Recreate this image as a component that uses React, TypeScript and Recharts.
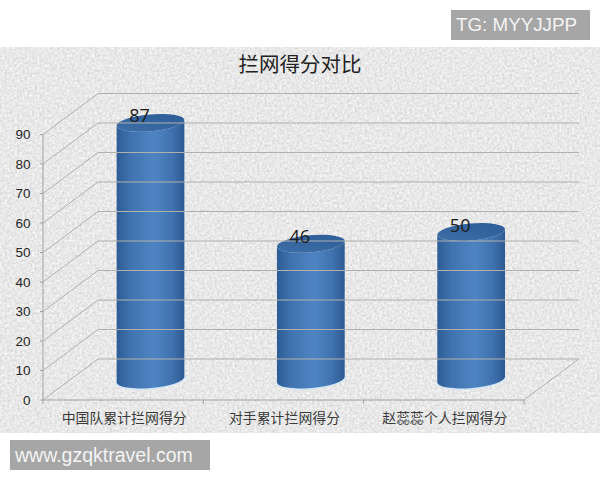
import React from "react";
import { BarChart, Bar, XAxis, YAxis, LabelList } from "recharts";

const categories = ["中国队累计拦网得分", "对手累计拦网得分", "赵蕊蕊个人拦网得分"];
const values = [87, 46, 50];
const yTicks = [0, 10, 20, 30, 40, 50, 60, 70, 80, 90];
const titleText = "拦网得分对比";
const topBadge = "TG: MYYJJPP";
const bottomBadge = "www.gzqktravel.com";

const chartData = categories.map((name, i) => ({ name, value: values[i] }));

const W = 600;
const H = 480;
const PLOT_LEFT = 43;
const PLOT_RIGHT = 524;
const PLOT_TOP = 134.5;
const PLOT_BOTTOM = 400;
const DEPTH_X = 55;
const DEPTH_Y = 41;
const RY = 8.5;
const TILT = -5;
const GRID = "#b0b0ae";
const AXIS = "#a2a2a0";
const CJK = '"Noto Sans CJK SC", sans-serif';
const LATIN = '"Liberation Sans", Arial, sans-serif';
const BAND = (PLOT_RIGHT - PLOT_LEFT) / categories.length;

const Cylinder = (props: any) => {
  const { x, y, width, height } = props;
  const cx = x + width / 2 + DEPTH_X / 2;
  const rx = width / 2;
  const top = y - DEPTH_Y / 2;
  const bottom = y + height - DEPTH_Y / 2;
  const tiltDx = rx * Math.cos((TILT * Math.PI) / 180);
  const tiltDy = rx * Math.sin((TILT * Math.PI) / 180);
  const body = `M${cx - tiltDx} ${top - tiltDy} L${cx - tiltDx} ${bottom - tiltDy}
    A${rx} ${RY} ${TILT} 0 0 ${cx + tiltDx} ${bottom + tiltDy}
    L${cx + tiltDx} ${top + tiltDy}
    A${rx} ${RY} ${TILT} 0 1 ${cx - tiltDx} ${top - tiltDy} Z`;
  return (
    <g>
      <ellipse cx={cx} cy={bottom + 0.8} rx={rx + 1.5} ry={RY + 0.8} transform={`rotate(${TILT} ${cx} ${bottom})`} fill="#d5e6f5" />
      <path d={body} fill="url(#cylBody)" />
      <ellipse cx={cx} cy={top} rx={rx} ry={RY} transform={`rotate(${TILT} ${cx} ${top})`} fill="url(#cylTop)" />
    </g>
  );
};

const YTick = (props: any) => {
  const { x, y, payload } = props;
  const isFloor = payload.value === 0;
  return (
    <g>
      <line x1={PLOT_LEFT} y1={y} x2={PLOT_LEFT + DEPTH_X} y2={y - DEPTH_Y} stroke={GRID} />
      <line x1={PLOT_LEFT + DEPTH_X} y1={y - DEPTH_Y} x2={PLOT_RIGHT + DEPTH_X} y2={y - DEPTH_Y} stroke={GRID} />
      {isFloor && <line x1={PLOT_RIGHT} y1={y} x2={PLOT_RIGHT + DEPTH_X} y2={y - DEPTH_Y} stroke={GRID} />}
      <text x={x + 0.5} y={y} dy={4.5} textAnchor="end" fontFamily={LATIN} fontSize={13.5} fill="#262626">
        {payload.value}
      </text>
    </g>
  );
};

const XTick = (props: any) => {
  const { x, y, payload, index } = props;
  return (
    <g>
      <line x1={x - BAND / 2} y1={PLOT_BOTTOM} x2={x - BAND / 2} y2={PLOT_BOTTOM + 4} stroke={AXIS} />
      {index === categories.length - 1 && (
        <line x1={x + BAND / 2} y1={PLOT_BOTTOM} x2={x + BAND / 2} y2={PLOT_BOTTOM + 4} stroke={AXIS} />
      )}
      <text x={x + 1} y={y} dy={9} textAnchor="middle" fontFamily={CJK} fontSize={13.9} fill="#3a3a3a">
        {payload.value}
      </text>
    </g>
  );
};

const ValueLabel = (props: any) => {
  const { x, y, width, value } = props;
  return (
    <text
      x={x + width / 2 + DEPTH_X / 2 - 11}
      y={y - DEPTH_Y / 2 - 0.5}
      textAnchor="middle"
      fontFamily={'"Open Sans", sans-serif'}
      fontSize={18}
      fill="#1c1c1c"
    >
      {value}
    </text>
  );
};

const badge = (left: number, top: number, width: number, size: number): React.CSSProperties => ({
  position: "absolute",
  left,
  top,
  width,
  height: 30,
  lineHeight: "30px",
  background: "#a6a6a6",
  color: "#f4f4f4",
  fontFamily: LATIN,
  fontSize: size,
  paddingLeft: 5,
  boxSizing: "border-box",
  whiteSpace: "nowrap",
});

export default function App() {
  return (
    <div style={{ position: "absolute", left: 0, top: 0, width: W, height: H, background: "#fff", overflow: "hidden" }}>
      <BarChart
        width={W}
        height={H}
        data={chartData}
        margin={{ top: PLOT_TOP, right: W - PLOT_RIGHT, bottom: 0, left: 0 }}
        barSize={68}
      >
        <defs>
          <filter id="paper" x="0" y="0" width="100%" height="100%" colorInterpolationFilters="sRGB">
            <feTurbulence type="fractalNoise" baseFrequency="0.4" numOctaves={3} seed={4} />
            <feColorMatrix
              type="matrix"
              values="0.2 0 0 0 0.81  0.2 0 0 0 0.81  0.2 0 0 0 0.81  0 0 0 0 1"
            />
          </filter>
          <linearGradient id="cylBody" x1="0" y1="0" x2="1" y2="0">
            <stop offset="0" stopColor="#2d5c95" />
            <stop offset="0.2" stopColor="#3f72ae" />
            <stop offset="0.55" stopColor="#4f84c3" />
            <stop offset="0.82" stopColor="#3f72ae" />
            <stop offset="1" stopColor="#2d5a92" />
          </linearGradient>
          <linearGradient id="cylTop" x1="0" y1="1" x2="1" y2="0">
            <stop offset="0" stopColor="#3f70aa" />
            <stop offset="0.6" stopColor="#33639d" />
            <stop offset="1" stopColor="#2d5c95" />
          </linearGradient>
        </defs>
        <rect x={0} y={47} width={W} height={386} filter="url(#paper)" />
        <text x={300} y={72} textAnchor="middle" fontFamily={CJK} fontSize={20.5} fill="#222">
          {titleText}
        </text>
        <YAxis
          domain={[0, 90]}
          ticks={yTicks}
          interval={0}
          width={PLOT_LEFT}
          tick={<YTick />}
          tickSize={3}
          tickMargin={10}
          axisLine={{ stroke: AXIS }}
          tickLine={{ stroke: AXIS }}
        />
        <XAxis
          dataKey="name"
          height={H - PLOT_BOTTOM}
          interval={0}
          tick={<XTick />}
          tickLine={false}
          tickMargin={8}
          axisLine={{ stroke: AXIS }}
        />
        <Bar dataKey="value" shape={<Cylinder />} isAnimationActive={false}>
          <LabelList dataKey="value" content={<ValueLabel />} />
        </Bar>
      </BarChart>
      <div style={badge(451, 10, 139, 18.8)}>{topBadge}</div>
      <div style={badge(10, 440, 200, 19.5)}>{bottomBadge}</div>
    </div>
  );
}
